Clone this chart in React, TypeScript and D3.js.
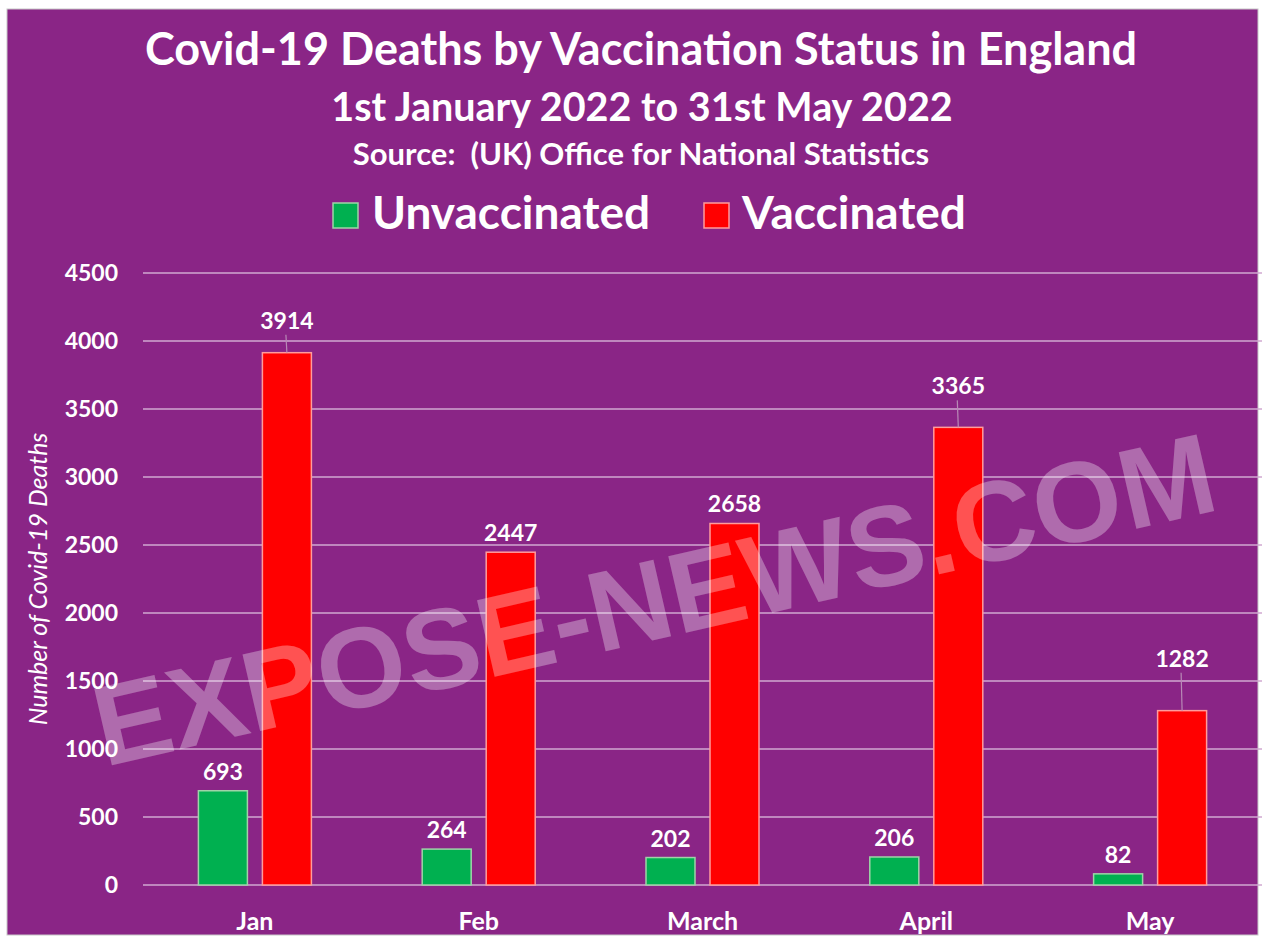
import React from "react";
import * as d3 from "d3";

const categories = ["Jan", "Feb", "March", "April", "May"];
const unvaccinated = [693, 264, 202, 206, 82];
const vaccinated = [3914, 2447, 2658, 3365, 1282];
const yTicks = [0, 500, 1000, 1500, 2000, 2500, 3000, 3500, 4000, 4500];
const vaccinatedLabelLift = [32, 19, 20, 41, 52];

const W = 1266;
const H = 939;
const BG = "#8a2586";
const FONT = "Lato, 'Open Sans', sans-serif";

export default function App() {
  const plotLeft = 143;
  const plotRight = 1262;
  const plotTop = 273;
  const plotBottom = 885;

  const x = d3.scaleBand<string>().domain(categories).range([plotLeft, plotRight]);
  const y = d3.scaleLinear().domain([0, 4500]).range([plotBottom, plotTop]);
  const barW = 49;
  const gap = 15;

  return (
    <svg width={W} height={H} style={{ position: "absolute", left: 0, top: 0 }} xmlns="http://www.w3.org/2000/svg">
      <rect x={0} y={0} width={W} height={H} fill="#ffffff" />
      <rect x={7} y={9} width={1251} height={926} fill={BG} stroke="#c8c8c8" strokeWidth={1} />

      <g fill="#ffffff" fontFamily={FONT} fontWeight="bold" textAnchor="middle">
        <text x={641} y={65} fontSize={45}>Covid-19 Deaths by Vaccination Status in England</text>
        <text x={642} y={121} fontSize={39.5}>1st January 2022 to 31st May 2022</text>
        <text x={641} y={165} fontSize={31} style={{ whiteSpace: "pre" }}>Source:  (UK) Office for National Statistics</text>
      </g>

      {/* legend */}
      <g fontFamily={FONT} fontWeight="bold" fontSize={46} fill="#ffffff">
        <rect x={333} y={203} width={25} height={25} fill="#00b050" stroke="#9fd3a8" strokeWidth={1.5} />
        <text x={372} y={229}>Unvaccinated</text>
        <rect x={704} y={203} width={25} height={25} fill="#ff0000" stroke="#ff9c9c" strokeWidth={1.5} />
        <text x={742} y={229}>Vaccinated</text>
      </g>

      {/* gridlines and y ticks */}
      {yTicks.map((t) => (
        <g key={t}>
          <line x1={plotLeft} x2={plotRight} y1={y(t)} y2={y(t)} stroke="#d1a8d0" strokeWidth={1.5} />
          <text x={118} y={y(t) + 8} fill="#ffffff" fontFamily={FONT} fontWeight="bold" fontSize={23} textAnchor="end">
            {t}
          </text>
        </g>
      ))}

      {/* y axis title */}
      <text
        transform={`translate(47,579) rotate(-90)`}
        fill="#ffffff"
        fontFamily={FONT}
        fontStyle="italic"
        fontSize={25}
        textAnchor="middle"
      >
        Number of Covid-19 Deaths
      </text>

      {/* bars */}
      {categories.map((c, i) => {
        const cx = (x(c) as number) + x.bandwidth() / 2;
        const gx = cx - gap / 2 - barW;
        const rx = cx + gap / 2;
        const gy = y(unvaccinated[i]);
        const ry = y(vaccinated[i]);
        const labelCy = ry - vaccinatedLabelLift[i];
        return (
          <g key={c}>
            <rect x={gx} y={gy} width={barW} height={plotBottom - gy} fill="#00b050" stroke="#9fd3a8" strokeWidth={1.5} />
            <rect x={rx} y={ry} width={barW} height={plotBottom - ry} fill="#ff0000" stroke="#ff9c9c" strokeWidth={1.5} />
            <text x={gx + barW / 2} y={gy - 11} fill="#ffffff" fontFamily={FONT} fontWeight="bold" fontSize={23} textAnchor="middle">
              {unvaccinated[i]}
            </text>
            {vaccinatedLabelLift[i] > 25 && (
              <line x1={rx + barW / 2 - 1} y1={labelCy + 14} x2={rx + barW / 2} y2={ry} stroke="#b88ab6" strokeWidth={1.2} />
            )}
            <text x={rx + barW / 2} y={labelCy + 8} fill="#ffffff" fontFamily={FONT} fontWeight="bold" fontSize={23} textAnchor="middle">
              {vaccinated[i]}
            </text>
            <text x={cx} y={930} fill="#ffffff" fontFamily={FONT} fontWeight="bold" fontSize={25} textAnchor="middle">
              {c}
            </text>
          </g>
        );
      })}

      {/* watermark */}
      <text
        transform="translate(663,638) rotate(-13)"
        fill="#ffffff"
        fillOpacity={0.32}
        fontFamily="'Liberation Sans', Arial, sans-serif"
        fontWeight="bold"
        fontSize={114}
        textAnchor="middle"
      >
        EXPOSE-NEWS.COM
      </text>
    </svg>
  );
}
